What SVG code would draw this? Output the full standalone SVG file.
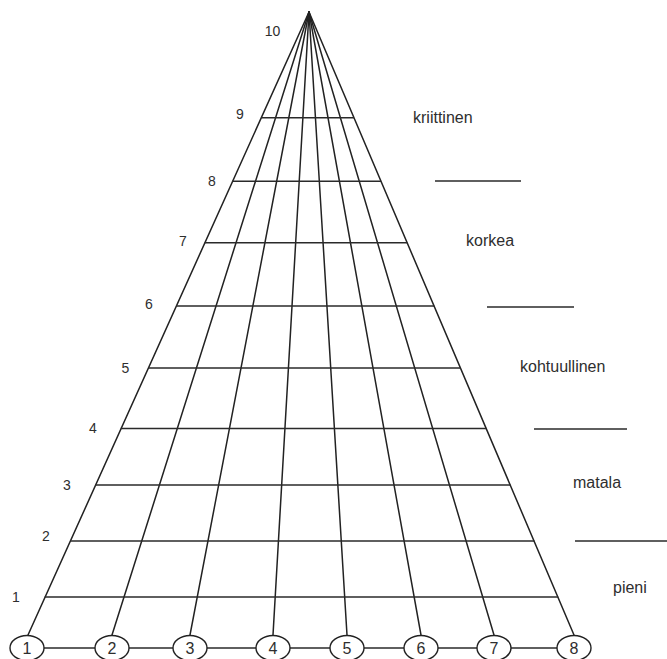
<svg xmlns="http://www.w3.org/2000/svg" width="667" height="659" viewBox="0 0 667 659">
<style>
.ln{stroke:#222;stroke-width:1.5;fill:none;stroke-linecap:round}
.rw{stroke:#2a2a2a;stroke-width:1.4;fill:none}
.nd{stroke:#222;stroke-width:1.4;fill:#fff}
.t{font-family:"Liberation Sans",Arial,sans-serif;fill:#2e2e2e}
.lv{font-size:14px;text-anchor:middle}
.nt{font-size:16px;text-anchor:middle}
.cat{font-size:16px}
</style>
<rect width="667" height="659" fill="#fff"/>
<g id="grid">
<line class="ln" x1="309" y1="12" x2="28" y2="635"/>
<line class="ln" x1="309" y1="12" x2="112" y2="635"/>
<line class="ln" x1="309" y1="12" x2="190" y2="635"/>
<line class="ln" x1="309" y1="12" x2="273" y2="635"/>
<line class="ln" x1="309" y1="12" x2="347" y2="635"/>
<line class="ln" x1="309" y1="12" x2="421" y2="635"/>
<line class="ln" x1="309" y1="12" x2="494" y2="635"/>
<line class="ln" x1="309" y1="12" x2="574" y2="635"/>
<line class="rw" x1="261.3" y1="117.7" x2="354" y2="117.7"/>
<line class="rw" x1="232.5" y1="181.3" x2="381.1" y2="181.3"/>
<line class="rw" x1="204.8" y1="242.7" x2="407.3" y2="242.7"/>
<line class="rw" x1="176.2" y1="306" x2="434.3" y2="306"/>
<line class="rw" x1="148.2" y1="368" x2="460.7" y2="368"/>
<line class="rw" x1="120.8" y1="428.5" x2="486.4" y2="428.5"/>
<line class="rw" x1="95.3" y1="485" x2="510.5" y2="485"/>
<line class="rw" x1="70" y1="541" x2="534.4" y2="541"/>
<line class="rw" x1="44.7" y1="597" x2="558.2" y2="597"/>
</g>
<g id="levels" class="t lv">
<text x="272.5" y="36">10</text>
<text x="240" y="119">9</text>
<text x="212" y="186">8</text>
<text x="183" y="246">7</text>
<text x="149" y="309">6</text>
<text x="125.5" y="373">5</text>
<text x="93" y="433">4</text>
<text x="67" y="490">3</text>
<text x="46" y="541">2</text>
<text x="16" y="602">1</text>
</g>
<g id="categories">
<g class="t cat">
<text x="413" y="123">kriittinen</text>
<text x="466" y="246">korkea</text>
<text x="520" y="372">kohtuullinen</text>
<text x="573" y="488">matala</text>
<text x="613" y="593">pieni</text>
</g>
<line class="rw" x1="435" y1="181" x2="521" y2="181"/>
<line class="rw" x1="487" y1="307" x2="574" y2="307"/>
<line class="rw" x1="534" y1="429" x2="627" y2="429"/>
<line class="rw" x1="575" y1="541" x2="667" y2="541"/>
</g>
<g id="connectors">
<line class="rw" x1="44" y1="648" x2="95" y2="648"/>
<line class="rw" x1="129" y1="648" x2="173" y2="648"/>
<line class="rw" x1="207" y1="648" x2="256" y2="648"/>
<line class="rw" x1="290" y1="648" x2="330" y2="648"/>
<line class="rw" x1="364" y1="648" x2="404" y2="648"/>
<line class="rw" x1="438" y1="648" x2="477" y2="648"/>
<line class="rw" x1="511" y1="648" x2="557" y2="648"/>
</g>
<g id="n1"><ellipse class="nd" cx="27" cy="648" rx="17" ry="12.5"/><text class="t nt" x="27" y="654">1</text></g>
<g id="n2"><ellipse class="nd" cx="112" cy="648" rx="17" ry="12.5"/><text class="t nt" x="112" y="654">2</text></g>
<g id="n3"><ellipse class="nd" cx="190" cy="648" rx="17" ry="12.5"/><text class="t nt" x="190" y="654">3</text></g>
<g id="n4"><ellipse class="nd" cx="273" cy="648" rx="17" ry="12.5"/><text class="t nt" x="273" y="654">4</text></g>
<g id="n5"><ellipse class="nd" cx="347" cy="648" rx="17" ry="12.5"/><text class="t nt" x="347" y="654">5</text></g>
<g id="n6"><ellipse class="nd" cx="421" cy="648" rx="17" ry="12.5"/><text class="t nt" x="421" y="654">6</text></g>
<g id="n7"><ellipse class="nd" cx="494" cy="648" rx="17" ry="12.5"/><text class="t nt" x="494" y="654">7</text></g>
<g id="n8"><ellipse class="nd" cx="574" cy="648" rx="17" ry="12.5"/><text class="t nt" x="574" y="654">8</text></g>
</svg>
